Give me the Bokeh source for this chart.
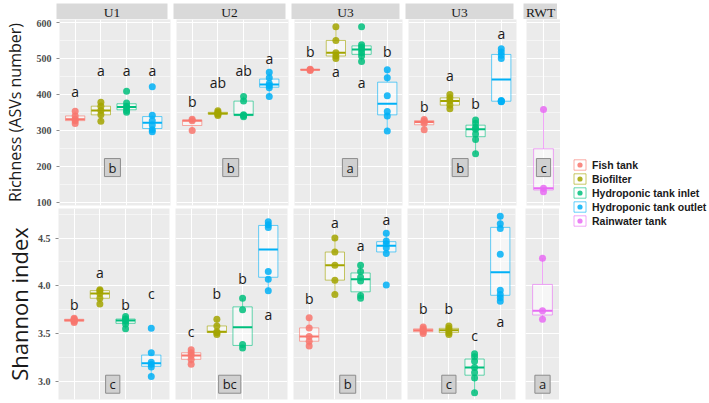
import numpy as np
from bokeh.plotting import figure
from bokeh.models import Range1d, FixedTicker, Legend, LegendItem, ColumnDataSource, NumeralTickFormatter
from bokeh.layouts import row, column
from bokeh.embed import file_html
from bokeh.resources import INLINE
from bokeh.core.properties import value

# ---------------- data ----------------
panel_names = ["U1", "U2", "U3", "U3", "RWT"]
groups = ["Fish tank", "Biofilter", "Hydroponic tank inlet", "Hydroponic tank outlet", "Rainwater tank"]
colors = ["#F8766D", "#A3A500", "#00BF7D", "#00B0F6", "#E76BF3"]

# Richness (ASVs number): one list of samples per group
rich_U1 = [[319, 327, 331, 340, 353], [325, 343, 355, 367, 378], [350, 355, 363, 367, 376, 408], [296, 302, 315, 327, 342, 421]]
rich_U2 = [[300, 327, 331], [341, 345, 347, 350, 354], [338, 341, 343, 381, 394], [394, 418, 424, 430, 446, 461]]
rich_U3 = [[466, 468, 469], [499, 506, 515, 549, 587], [491, 506, 515, 524, 531, 537, 587], [298, 340, 352, 396, 446, 468]]
rich_U3b = [[302, 320, 326, 330], [360, 370, 381, 390, 399], [235, 275, 290, 303, 309, 320, 329], [379, 380, 381, 383, 499, 508, 517, 526]]
rich_RWT = [[130, 140, 358]]

# Shannon index
shan_U1 = [[3.615, 3.63, 3.64, 3.65, 3.66], [3.81, 3.87, 3.92, 3.95, 3.96], [3.55, 3.60, 3.63, 3.645, 3.655, 3.68], [3.05, 3.15, 3.18, 3.20, 3.30, 3.556]]
shan_U2 = [[3.18, 3.23, 3.27, 3.30, 3.33], [3.49, 3.51, 3.52, 3.58, 3.65], [3.35, 3.385, 3.75, 3.87], [3.95, 4.07, 4.15, 4.61, 4.64, 4.67]]
shan_U3 = [[3.37, 3.42, 3.47, 3.56, 3.667], [3.91, 4.06, 4.216, 4.354, 4.5], [3.87, 3.90, 4.05, 4.09, 4.15, 4.216], [4.01, 4.34, 4.40, 4.44, 4.47, 4.55]]
shan_U3b = [[3.50, 3.52, 3.535, 3.55, 3.57], [3.49, 3.51, 3.535, 3.555, 3.58], [2.88, 3.035, 3.094, 3.146, 3.21, 3.257, 3.29], [3.84, 3.875, 3.91, 3.955, 4.33, 4.60, 4.65, 4.73]]
shan_RWT = [[3.65, 3.74, 4.29]]

# significance letters above groups and their heights
rich_let_U1 = ["a", "a", "a", "a"];   rich_let_y_U1 = [409, 466, 466, 466]
rich_let_U2 = ["b", "ab", "ab", "a"]; rich_let_y_U2 = [379, 433, 466, 499]
rich_let_U3 = ["b", "a", "a", "b"];   rich_let_y_U3 = [518, 464, 432, 518]
rich_let_U3b = ["b", "a", "b", "a"];  rich_let_y_U3b = [366, 451, 374, 569]
shan_let_U1 = ["b", "a", "b", "c"];   shan_let_y_U1 = [3.80, 4.135, 3.80, 3.92]
shan_let_U2 = ["c", "b", "b", "a"];   shan_let_y_U2 = [3.52, 3.92, 4.08, 3.695]
shan_let_U3 = ["b", "a", "a", "a"];   shan_let_y_U3 = [3.87, 4.66, 4.42, 4.70]
shan_let_U3b = ["b", "b", "c", "a"];  shan_let_y_U3b = [3.765, 3.765, 3.475, 3.63]

# letters comparing units (boxed labels)
rich_unit_letters = ["b", "b", "a", "b", "c"]
shan_unit_letters = ["c", "bc", "b", "c", "a"]
rich_unit_letter_x = [2.45, 2.5, 2.55, 2.4, 1.0]
shan_unit_letter_x = [2.5, 2.5, 2.5, 2.0, 1.0]
rich_unit_letter_y = 197
shan_unit_letter_y = 2.97

rich_ticks = [100, 200, 300, 400, 500, 600]
rich_minor = [150, 250, 350, 450, 550]
shan_ticks = [3.0, 3.5, 4.0, 4.5]
shan_minor = [2.75, 3.25, 3.75, 4.25, 4.75]

rich_data = [rich_U1, rich_U2, rich_U3, rich_U3b, rich_RWT]
shan_data = [shan_U1, shan_U2, shan_U3, shan_U3b, shan_RWT]
rich_lets = [(rich_let_U1, rich_let_y_U1), (rich_let_U2, rich_let_y_U2), (rich_let_U3, rich_let_y_U3), (rich_let_U3b, rich_let_y_U3b), ([], [])]
shan_lets = [(shan_let_U1, shan_let_y_U1), (shan_let_U2, shan_let_y_U2), (shan_let_U3, shan_let_y_U3), (shan_let_U3b, shan_let_y_U3b), ([], [])]

# ---------------- layout ----------------
frame_w = [111, 112, 108, 108, 34]
gap_r = [6, 6, 6, 10, 0]
LEFT = 56
PX_PER_UNIT = 25.7
TXT = "#1A1A1A"


def box_stats(v):
    v = np.asarray(v, float)
    q1, med, q3 = np.percentile(v, [25, 50, 75])
    iqr = q3 - q1
    lo = v[v >= q1 - 1.5 * iqr].min()
    hi = v[v <= q3 + 1.5 * iqr].max()
    return q1, med, q3, lo, hi


def x_range_for(k):
    if k == 4:
        half = frame_w[k] / 26.35 / 2
        return Range1d(1 - half, 1 + half)
    x0 = 0.39
    return Range1d(x0, x0 + frame_w[k] / PX_PER_UNIT)


def make_panel(k, data, lets, unit_letter, unit_x, unit_y, yr, ticks, minor, fh, bb,
               ylabel, ylabel_size, label_standoff, fmt):
    first = k == 0
    p = figure(frame_width=frame_w[k], frame_height=fh, x_range=x_range_for(k), y_range=yr,
               output_backend="svg", toolbar_location=None,
               x_axis_location=None, y_axis_location="left" if first else None,
               min_border=0, min_border_left=LEFT if first else 0, min_border_right=gap_r[k],
               min_border_top=0, min_border_bottom=bb,
               background_fill_color="#EBEBEB", border_fill_color="white", outline_line_color=None)
    p.xgrid.ticker = FixedTicker(ticks=[1, 2, 3, 4] if k < 4 else [1])
    p.xgrid.grid_line_color = "white"
    p.xgrid.grid_line_width = 1.1
    p.ygrid.ticker = FixedTicker(ticks=ticks, minor_ticks=minor)
    p.ygrid.grid_line_color = "white"
    p.ygrid.grid_line_width = 1.1
    p.ygrid.minor_grid_line_color = "white"
    p.ygrid.minor_grid_line_width = 0.5
    if first:
        ax = p.yaxis[0]
        ax.ticker = FixedTicker(ticks=ticks, minor_ticks=[])
        ax.formatter = NumeralTickFormatter(format=fmt)
        ax.axis_line_color = None
        ax.major_tick_in = 0
        ax.major_tick_out = 3
        ax.minor_tick_out = 0
        ax.minor_tick_in = 0
        ax.major_tick_line_color = "#8C8C8C"
        ax.major_label_text_font = "Liberation Serif"
        ax.major_label_text_font_style = "bold"
        ax.major_label_text_font_size = "10px"
        ax.major_label_text_color = "#4D4D4D"
        ax.major_label_standoff = 5
        ax.axis_label = ylabel
        ax.axis_label_text_font = "Open Sans"
        ax.axis_label_text_font_style = "normal"
        ax.axis_label_text_font_size = ylabel_size
        ax.axis_label_text_color = TXT
        ax.axis_label_standoff = label_standoff

    gidx = [0, 1, 2, 3] if k < 4 else [4]
    xs = [1, 2, 3, 4] if k < 4 else [1]
    bx, q1s, meds, q3s, los, his, cols = [], [], [], [], [], [], []
    px, py, pc = [], [], []
    for x, g, vals in zip(xs, gidx, data):
        q1, med, q3, lo, hi = box_stats(vals)
        bx.append(x); q1s.append(q1); meds.append(med); q3s.append(q3); los.append(lo); his.append(hi)
        cols.append(colors[g])
        for v in vals:
            px.append(x); py.append(v); pc.append(colors[g])
    src = ColumnDataSource(dict(x=bx, q1=q1s, med=meds, q3=q3s, lo=los, hi=his, c=cols,
                                xl=[x - 0.375 for x in bx], xr=[x + 0.375 for x in bx]))
    p.segment(x0="x", y0="lo", x1="x", y1="q1", source=src, line_color="c", line_alpha=0.6, line_width=1)
    p.segment(x0="x", y0="q3", x1="x", y1="hi", source=src, line_color="c", line_alpha=0.6, line_width=1)
    p.vbar(x="x", width=0.75, bottom="q1", top="q3", source=src, fill_color="white", fill_alpha=0.55,
           line_color="c", line_alpha=0.6, line_width=1)
    p.scatter(x=px, y=py, color=pc, size=7, alpha=0.85, line_width=0)
    p.segment(x0="xl", y0="med", x1="xr", y1="med", source=src, line_color="c", line_width=2)

    letters, ly = lets
    if letters:
        p.text(x=xs[:len(letters)], y=ly, text=letters, text_align="center", text_baseline="middle",
               text_font=value("Open Sans"), text_font_size="14px", text_color=TXT)
    p.text(x=[unit_x], y=[unit_y], text=[unit_letter], text_align="center", text_baseline="middle",
           text_font=value("Open Sans"), text_font_size="13px", text_color=TXT,
           background_fill_color="#D0D0D0", border_line_color="#8C8C8C", border_line_width=1,
           padding=(4, 0))
    return p


def make_strip(k, name):
    first = k == 0
    p = figure(frame_width=frame_w[k], frame_height=16, x_range=Range1d(0, 1), y_range=Range1d(0, 1),
               output_backend="svg", toolbar_location=None, x_axis_location=None, y_axis_location=None,
               min_border=0, min_border_left=LEFT if first else 0, min_border_right=gap_r[k],
               min_border_top=3, min_border_bottom=0,
               background_fill_color="#D9D9D9", border_fill_color="white", outline_line_color=None)
    p.grid.visible = False
    p.text(x=[0.5], y=[0.45], text=[name], text_align="center", text_baseline="middle",
           text_font=value("Liberation Serif"), text_font_size="13.5px", text_color=TXT)
    return p


strips = [make_strip(k, n) for k, n in enumerate(panel_names)]
tops = [make_panel(k, rich_data[k], rich_lets[k], rich_unit_letters[k], rich_unit_letter_x[k], rich_unit_letter_y,
                   Range1d(92, 607), rich_ticks, rich_minor, 186, 3, "Richness (ASVs number)", "16px", 8, "0")
        for k in range(5)]
bots = [make_panel(k, shan_data[k], shan_lets[k], shan_unit_letters[k], shan_unit_letter_x[k], shan_unit_letter_y,
                   Range1d(2.81, 4.81), shan_ticks, shan_minor, 191, 4, "Shannon index", "22px", 1, "0.0")
        for k in range(5)]

# legend panel
lf = figure(frame_width=152, frame_height=403, x_range=Range1d(0, 1), y_range=Range1d(0, 1),
            output_backend="svg", toolbar_location=None, x_axis_location=None, y_axis_location=None,
            min_border=0, background_fill_color="white", border_fill_color="white", outline_line_color=None)
lf.grid.visible = False
items = []
for g, c in zip(groups, colors):
    rb = lf.rect(x=[-5], y=[-5], width=1, height=1, fill_color="white", fill_alpha=0.55,
                 line_color=c, line_alpha=0.6)
    rs = lf.scatter(x=[-5], y=[-5], size=7, color=c, alpha=0.85, line_width=0)
    items.append(LegendItem(label=g, renderers=[rb, rs]))
legend = Legend(items=items, location=(12, 176), glyph_width=15, glyph_height=13, label_height=13,
                spacing=1, padding=0, margin=0, label_standoff=5,
                label_text_font="Liberation Sans", label_text_font_style="bold",
                label_text_font_size="10.5px", label_text_color=TXT,
                background_fill_alpha=0, border_line_color=None)
lf.add_layout(legend)

grid = column(row(*strips), row(*tops), row(*bots))
p = row(grid, lf)

open("out.html", "w").write(file_html(p, INLINE))
